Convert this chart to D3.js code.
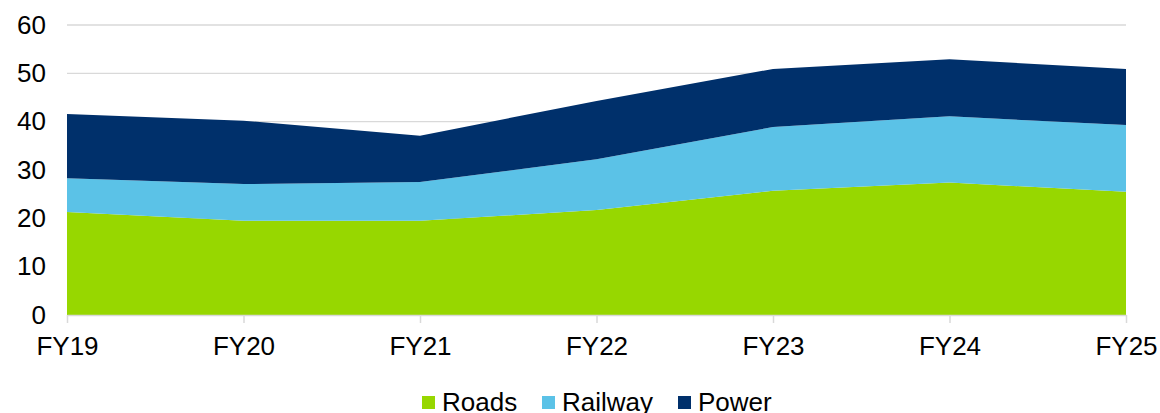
<!DOCTYPE html>
<html>
<head>
<meta charset="utf-8">
<script src="https://cdn.jsdelivr.net/npm/d3@7"></script>
<style>
  body { margin: 0; background: #fff; }
  svg { display: block; font-family: "Liberation Sans", Arial, sans-serif; }
</style>
</head>
<body>
<svg id="chart"></svg>
<script>
var years = ["FY19", "FY20", "FY21", "FY22", "FY23", "FY24", "FY25"];
var roads = [21.3, 19.5, 19.5, 21.7, 25.7, 27.4, 25.5];
var railway = [7.0, 7.6, 8.0, 10.5, 13.2, 13.7, 13.8];
var power = [13.3, 13.1, 9.6, 12.1, 12.0, 11.8, 11.6];
var seriesNames = ["Roads", "Railway", "Power"];
var colors = ["#97d700", "#5bc2e7", "#00306b"];
var yTicks = [0, 10, 20, 30, 40, 50, 60];

function draw() {
    var width = 1160, height = 413;
    var svg = d3.select("#chart").attr("width", width).attr("height", height);

    var x = d3.scalePoint().domain(years).range([67, 1126]);
    var y = d3.scaleLinear().domain([0, 60]).range([315, 25]);

    var rows = years.map(function(d, i) {
        return { year: d, Roads: roads[i], Railway: railway[i], Power: power[i] };
    });
    var stacked = d3.stack().keys(seriesNames)(rows);

    // gridlines
    svg.append("g").selectAll("line")
        .data(yTicks.filter(function(d) { return d > 0; }))
        .enter().append("line")
        .attr("x1", 67).attr("x2", 1126)
        .attr("y1", function(d) { return y(d); })
        .attr("y2", function(d) { return y(d); })
        .attr("stroke", "#d9d9d9")
        .attr("stroke-width", 1.3);

    var area = d3.area()
        .x(function(d) { return x(d.data.year); })
        .y0(function(d) { return y(d[0]); })
        .y1(function(d) { return y(d[1]); });

    svg.append("g").selectAll("path")
        .data(stacked)
        .enter().append("path")
        .attr("d", area)
        .attr("fill", function(d, i) { return colors[i]; });

    // y axis labels
    var yAxis = svg.append("g")
        .attr("transform", "translate(46,0)")
        .call(d3.axisLeft(y).tickValues(yTicks).tickSize(0).tickPadding(0));
    yAxis.select(".domain").remove();
    yAxis.selectAll("text")
        .attr("font-size", 26)
        .attr("font-family", "Liberation Sans, Arial, sans-serif")
        .attr("fill", "#000");

    // x axis
    var xAxis = svg.append("g")
        .attr("transform", "translate(0," + y(0) + ")")
        .call(d3.axisBottom(x).tickSize(8).tickPadding(14).tickSizeOuter(0));
    xAxis.select(".domain").attr("stroke", "#d9d9d9").attr("stroke-width", 1.5);
    xAxis.selectAll(".tick line").attr("stroke", "#d9d9d9").attr("stroke-width", 1.5);
    xAxis.selectAll("text")
        .attr("font-size", 26)
        .attr("font-family", "Liberation Sans, Arial, sans-serif")
        .attr("fill", "#000");

    // legend
    var legendX = [422, 542, 678];
    var legend = svg.append("g").selectAll("g")
        .data(seriesNames)
        .enter().append("g")
        .attr("transform", function(d, i) { return "translate(" + legendX[i] + ",396)"; });
    legend.append("rect")
        .attr("width", 13).attr("height", 13)
        .attr("fill", function(d, i) { return colors[i]; });
    legend.append("text")
        .attr("x", 20).attr("y", 15)
        .attr("font-size", 26)
        .attr("fill", "#000")
        .text(function(d) { return d; });
}
window.onload = draw;
</script>
</body>
</html>
